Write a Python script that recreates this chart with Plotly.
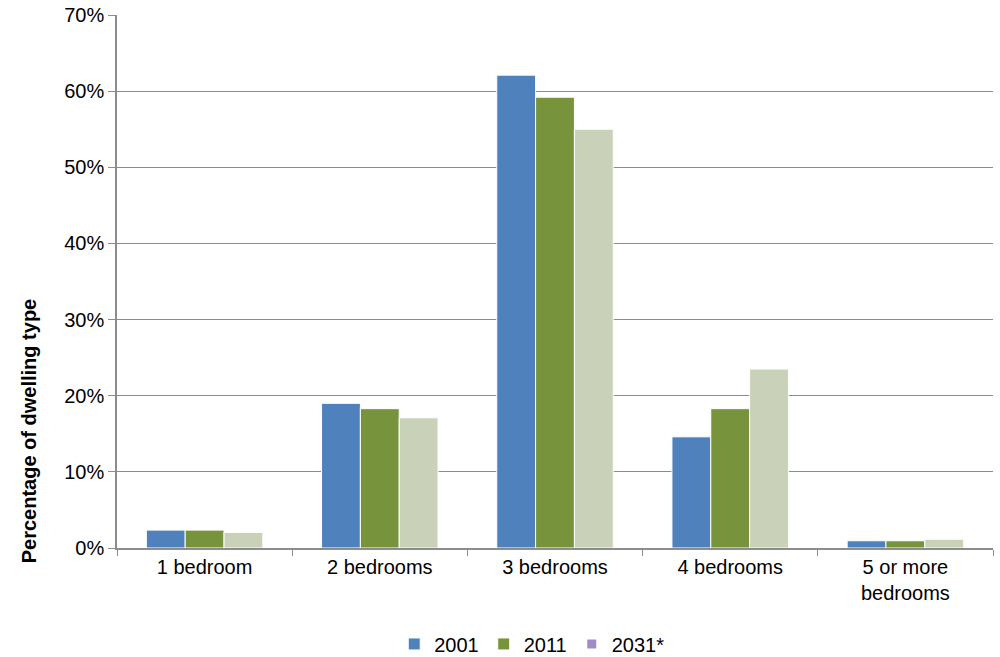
import plotly.graph_objects as go

categories = ["1 bedroom", "2 bedrooms", "3 bedrooms", "4 bedrooms", "5 or more<br>bedrooms"]
share_2001 = [2.35, 19.0, 62.1, 14.6, 0.95]
share_2011 = [2.35, 18.3, 59.2, 18.3, 0.95]
share_2031 = [2.05, 17.1, 55.0, 23.5, 1.15]
y_ticks = [0, 10, 20, 30, 40, 50, 60, 70]
y_tick_labels = [f"{v}%" for v in y_ticks]

font_family = "Liberation Sans, Arial, sans-serif"
axis_grey = "#8c8c8c"

fig = go.Figure()
fig.add_trace(go.Bar(name="2001", x=categories, y=share_2001,
                     marker=dict(color="#4F81BD", line=dict(color="white", width=1))))
fig.add_trace(go.Bar(name="2011", x=categories, y=share_2011,
                     marker=dict(color="#77933C", line=dict(color="white", width=1))))
fig.add_trace(go.Bar(name="2031*", x=categories, y=share_2031, showlegend=False,
                     marker=dict(color="#C9D1B9", line=dict(color="white", width=1))))
# legend key for the projection series
fig.add_trace(go.Scatter(name="2031*", x=[categories[0]], y=[None], mode="markers",
                         marker=dict(symbol="square", size=9, color="#9F8CC8"),
                         showlegend=True))

# vertical axis title, set lower than the axis midpoint
fig.add_annotation(text="<b>Percentage of dwelling type</b>", textangle=-90,
                   xref="paper", yref="paper", x=-0.101, y=0.22,
                   xanchor="center", yanchor="middle", showarrow=False,
                   font=dict(size=20, color="black"))

fig.update_layout(
    width=1000, height=657,
    margin=dict(l=117, r=7, t=15, b=109, autoexpand=False),
    paper_bgcolor="white", plot_bgcolor="white",
    barmode="group", bargap=0.335, bargroupgap=0,
    font=dict(family=font_family, size=20, color="black"),
    showlegend=True,
    legend=dict(orientation="h", x=0.474, xanchor="center", y=-0.18, yanchor="middle",
                font=dict(size=20), itemwidth=30, tracegroupgap=0),
    xaxis=dict(showgrid=False, showline=True, linecolor=axis_grey, linewidth=1.5,
               ticks="outside", tickson="boundaries", ticklen=6, tickcolor=axis_grey,
               tickfont=dict(size=20), automargin=False),
    yaxis=dict(range=[0, 70], tickmode="array", tickvals=y_ticks, ticktext=y_tick_labels,
               showgrid=True, gridcolor=axis_grey, gridwidth=1.2,
               showline=True, linecolor=axis_grey, linewidth=1.5,
               ticks="outside", ticklen=7, tickcolor=axis_grey,
               zeroline=False, tickfont=dict(size=20), automargin=False),
)

fig.write_html("out.html")
